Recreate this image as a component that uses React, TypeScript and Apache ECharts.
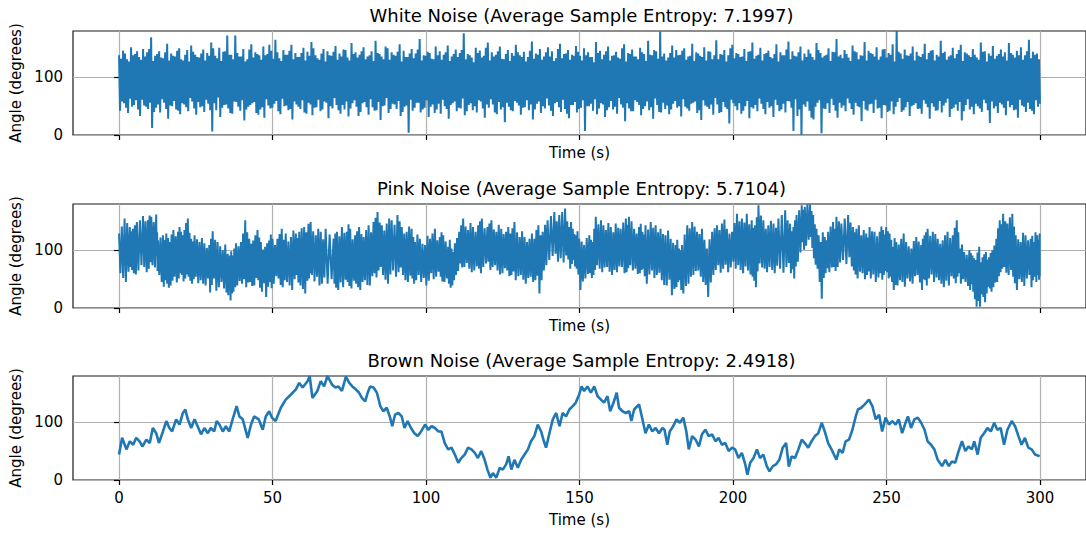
import { useEffect, useRef } from "react";
import * as echarts from "echarts";

// Panel titles and axis ticks
const PANEL_TITLES = [
  "White Noise (Average Sample Entropy: 7.1997)",
  "Pink Noise (Average Sample Entropy: 5.7104)",
  "Brown Noise (Average Sample Entropy: 2.4918)",
];
const TIME_TICKS = [0, 50, 100, 150, 200, 250, 300];
const ANGLE_TICKS = [0, 100];

// White noise: four samples per cycle (high, low, high2, low2), evenly spaced over 0–300 s
const whiteHigh = [
  138, 146, 131, 152, 140, 135, 149, 143, 169, 137, 145, 133, 158, 141, 136, 150, 129, 147, 155, 139,
  134, 148, 142, 160, 137, 151, 144, 172, 139, 172, 136, 149, 131, 157, 143, 138, 153, 140, 146, 165,
  133, 147, 139, 156, 142, 135, 151, 144, 161, 138, 130, 149, 145, 137, 154, 141, 148, 134, 159, 143,
  139, 152, 136, 145, 163, 140, 131, 150, 143, 137, 157, 146, 135, 149, 141, 166, 138, 144, 132, 153,
  145, 139, 155, 136, 148, 142, 176, 140, 134, 151, 146, 137, 160, 143, 139, 153, 131, 147, 142, 156,
  138, 144, 135, 162, 141, 149, 136, 152, 145, 133, 158, 140, 147, 139, 154, 137, 150, 143, 135, 161,
  146, 139, 153, 137, 144, 132, 157, 142, 148, 136, 151, 140, 163, 138, 145, 179, 141, 134, 155, 147,
  139, 150, 136, 158, 143, 137, 152, 145, 131, 164, 140, 147, 138, 156, 142, 135, 149, 144, 160, 137,
  151, 140, 146, 133, 157, 143, 138, 162, 145, 136, 153, 141, 148, 135, 159, 142, 137, 150, 144, 166,
  139, 147, 134, 155, 143, 138, 161, 146, 140, 152, 136, 149, 142, 157, 180, 141, 148, 137, 153, 144,
  135, 158, 142, 147, 139, 163, 144, 136, 151, 140, 156, 143, 138, 149, 134, 160, 145, 141, 154, 137,
  148, 143, 159, 139, 146, 152, 138, 165, 144, 141,
];
const whiteLow = [
  42, 55, 38, 49, 60, 33, 51, 45, 12, 47, 39, 56, 28, 50, 44, 36, 53, 41, 58, 35,
  48, 40, 54, 6, 43, 31, 52, 46, 37, 57, 42, 25, 49, 55, 38, 44, 30, 51, 47, 59,
  36, 50, 43, 27, 53, 45, 39, 56, 34, 48, 41, 58, 29, 46, 52, 37, 44, 32, 55, 49,
  40, 57, 35, 48, 43, 26, 51, 38, 54, 45, 33, 49, 4, 42, 56, 39, 47, 31, 53, 44,
  37, 50, 28, 55, 41, 46, 34, 52, 43, 39, 58, 30, 47, 53, 36, 44, 22, 49, 41, 56,
  35, 48, 43, 27, 54, 38, 46, 51, 33, 57, 40, 45, 29, 52, 39, 47, 7, 50, 42, 36,
  55, 31, 48, 44, 37, 53, 24, 46, 41, 57, 34, 50, 43, 28, 52, 39, 45, 36, 54, 47,
  32, 49, 42, 56, 38, 26, 51, 45, 35, 53, 40, 48, 20, 55, 43, 37, 50, 29, 46, 41,
  54, 36, 47, 31, 52, 44, 39, 58, 7, 33, 0, 49, 42, 27, 56, 3, 45, 38, 52, 30,
  47, 41, 55, 35, 50, 24, 44, 53, 38, 46, 29, 51, 42, 36, 57, 40, 48, 33, 52, 45,
  37, 54, 28, 49, 43, 39, 56, 31, 47, 42, 25, 52, 44, 36, 50, 40, 55, 21, 46, 38,
  53, 34, 48, 43, 30, 51, 40, 45, 36, 49,
];
const whiteHigh2 = [
  132, 141, 127, 138, 145, 130, 136, 149, 128, 140, 134, 143, 129, 137, 146, 131, 139, 127, 144, 135,
  141, 129, 137, 150, 133, 128, 145, 139, 131, 142, 136, 127, 148, 134, 140, 130, 138, 156, 132, 143,
  128, 139, 146, 131, 135, 142, 129, 137, 150, 133, 141, 127, 138, 144, 130, 136, 147, 129, 140, 134,
  145, 131, 138, 128, 142, 136, 153, 130, 139, 144, 127, 135, 141, 133, 148, 129, 137, 142, 131, 138,
  130, 143, 128, 140, 135, 147, 131, 138, 126, 142, 134, 151, 129, 136, 145, 132, 140, 128, 137, 143,
  135, 127, 146, 132, 139, 130, 143, 136, 128, 149, 133, 141, 130, 137, 144, 129, 138, 135, 126, 142,
  131, 145, 129, 138, 134, 150, 127, 140, 136, 131, 143, 128, 139, 147, 132, 136, 129, 142, 134, 138,
  146, 130, 137, 128, 141, 135, 129, 144, 138, 131, 139, 127, 150, 133, 140, 136, 128, 145, 132, 139,
  129, 142, 135, 140, 127, 138, 148, 131, 137, 143, 129, 135, 141, 130, 147, 134, 139, 128, 143, 136,
  133, 140, 128, 145, 131, 137, 129, 142, 136, 130, 148, 134, 139, 127, 144, 132, 138, 141, 129, 137,
  140, 131, 146, 129, 136, 142, 130, 138, 133, 147, 128, 141, 135, 139, 130, 144, 127, 137, 132, 140,
  136, 129, 142, 134, 138, 130, 145, 133, 139, 131,
];
const whiteLow2 = [
  58, 47, 63, 52, 44, 61, 49, 56, 40, 53, 62, 45, 51, 59, 42, 55, 48, 64, 46, 57,
  50, 61, 43, 55, 65, 47, 53, 38, 58, 49, 60, 44, 52, 57, 35, 48, 62, 46, 54, 41,
  63, 51, 45, 58, 49, 60, 37, 53, 47, 61, 44, 56, 50, 64, 43, 52, 58, 46, 60, 33,
  55, 48, 62, 42, 57, 50, 64, 45, 53, 59, 40, 51, 61, 47, 56, 44, 60, 49, 38, 54,
  61, 45, 52, 58, 47, 63, 41, 55, 50, 60, 46, 53, 62, 39, 57, 48, 56, 43, 59, 51,
  47, 60, 53, 44, 58, 50, 63, 42, 55, 48, 61, 37, 52, 57, 45, 60, 50, 54, 62, 46,
  53, 43, 59, 49, 64, 47, 55, 41, 60, 52, 45, 58, 48, 63, 40, 56, 51, 44, 59, 50,
  62, 46, 54, 58, 43, 60, 49, 53, 64, 38, 57, 45, 61, 50, 55, 42, 59, 48, 52, 63,
  45, 57, 50, 61, 41, 54, 59, 47, 62, 44, 53, 58, 30, 49, 60, 46, 55, 63, 42, 56,
  51, 63, 45, 56, 48, 59, 42, 54, 61, 47, 52, 40, 58, 49, 64, 43, 57, 50, 55, 46,
  60, 48, 55, 42, 59, 51, 63, 45, 53, 57, 41, 62, 49, 54, 46, 61, 43, 58, 50, 56,
  47, 59, 52, 44, 61, 49, 56, 42, 60, 54,
];

// Pink noise: time of each main peak, then peak, trough, secondary peak and secondary trough
const pinkTime = [
  0, 1.8, 3.5, 4.5, 5.8, 7.8, 9.4, 10.5, 12.1, 12.7,
  14.3, 15.4, 16.5, 17.7, 19.2, 20.2, 21.3, 22.4, 23.5, 24.6,
  26.2, 27.8, 29.4, 30.5, 32.1, 33.8, 35.4, 36.1, 37, 38.1,
  39.7, 41.1, 42.4, 43.7, 45.1, 46.2, 47.6, 48.9, 50, 51.6,
  53, 54.3, 56, 57.6, 58.7, 60.3, 61.7, 62.4, 64.1, 65.7,
  67.3, 69.9, 71, 72.6, 74.2, 75.3, 76.9, 78.2, 79.7, 81.3,
  82.9, 84.2, 85.6, 87.2, 88.8, 90.7, 92.1, 93.7, 95.3, 96.4,
  98, 99.7, 101.3, 102.9, 104.5, 105.6, 107.2, 108.3, 109.4, 110.8,
  112.1, 113.7, 115.3, 117, 118.2, 120, 121.3, 122.9, 124.5, 126.1,
  127.5, 128.8, 130.5, 132.1, 133.7, 135.3, 136.6, 138, 139.6, 141.8,
  143.4, 145.3, 146.7, 147.8, 148.8, 149.9, 151.5, 153.2, 154.3, 155.3,
  157, 158.6, 160.2, 161.8, 163.4, 165.1, 166.1, 167.8, 169.4, 170.5,
  171.5, 173.2, 174.8, 176.4, 178, 179.7, 181.3, 182.4, 183.4, 185.1,
  186.7, 188.3, 189.9, 191.5, 193.2, 194.8, 196.4, 198, 199.7, 201.3,
  202.9, 204.5, 206.1, 207.2, 208.3, 209.9, 211.5, 213.2, 214.8, 217,
  218.6, 219.7, 220.7, 222.4, 223.4, 225.1, 226.1, 227.2, 228.6, 229.9,
  231, 232.6, 233.7, 235.3, 237.5, 239.1, 240.2, 241.8, 243.4, 244.5,
  246.1, 247.8, 248.9, 249.9, 251, 252.1, 253.2, 254.8, 256.4, 258.1,
  259.7, 261.3, 262.4, 263.4, 265.1, 266.7, 268.3, 269.9, 271.6, 272.9,
  273.9, 275.3, 277, 278, 279.1, 280.2, 281.3, 282.4, 283.4, 284.5,
  285.8, 286.9, 288, 289.4, 291, 292.1, 293.7, 295.3, 297, 298,
  299.1, 299.9,
];
const pinkHigh = [
  129, 155, 140, 137, 149, 159, 152, 158, 162, 117,
  126, 129, 114, 135, 132, 132, 135, 155, 120, 126,
  114, 112, 109, 133, 114, 100, 94, 91, 91, 112,
  114, 152, 120, 117, 135, 114, 106, 117, 120, 120,
  137, 129, 123, 129, 132, 140, 146, 149, 126, 132,
  137, 120, 132, 140, 132, 137, 126, 140, 123, 143,
  149, 166, 143, 146, 152, 161, 140, 132, 137, 114,
  120, 109, 120, 137, 123, 126, 106, 103, 112, 132,
  155, 135, 140, 143, 155, 140, 152, 132, 137, 132,
  129, 149, 123, 123, 120, 120, 143, 132, 152, 166,
  161, 172, 140, 137, 126, 120, 109, 126, 114, 158,
  152, 135, 140, 146, 137, 155, 158, 137, 140, 132,
  143, 149, 143, 137, 126, 120, 109, 103, 109, 143,
  149, 132, 137, 103, 132, 143, 146, 137, 132, 163,
  155, 163, 152, 143, 178, 152, 143, 146, 155, 169,
  146, 140, 161, 178, 175, 179, 161, 137, 114, 123,
  132, 149, 158, 146, 161, 140, 137, 126, 129, 140,
  132, 132, 135, 140, 129, 106, 114, 120, 114, 103,
  123, 109, 126, 137, 132, 120, 117, 132, 126, 152,
  103, 97, 100, 91, 83, 106, 88, 97, 88, 100,
  120, 152, 163, 146, 163, 126, 114, 126, 120, 114,
  126, 129,
];
const pinkLow = [
  60, 45, 71, 60, 65, 71, 68, 74, 91, 57,
  37, 42, 39, 54, 51, 57, 51, 54, 42, 54,
  48, 39, 27, 51, 36, 34, 22, 13, 28, 39,
  42, 36, 45, 39, 48, 28, 19, 45, 42, 51,
  36, 45, 31, 57, 39, 25, 51, 57, 54, 42,
  42, 42, 31, 36, 45, 34, 42, 31, 48, 39,
  60, 65, 57, 42, 65, 62, 57, 45, 51, 48,
  45, 39, 60, 54, 54, 45, 42, 39, 57, 77,
  71, 68, 65, 68, 71, 80, 71, 65, 60, 65,
  57, 48, 57, 42, 54, 48, 25, 65, 83, 94,
  86, 91, 68, 83, 68, 31, 51, 60, 57, 74,
  62, 71, 57, 62, 71, 62, 74, 68, 60, 68,
  42, 65, 57, 48, 39, 22, 36, 48, 25, 42,
  57, 65, 45, 19, 57, 74, 68, 62, 80, 74,
  60, 65, 54, 36, 77, 68, 71, 60, 68, 71,
  60, 51, 80, 114, 108, 123, 86, 68, 16, 60,
  62, 71, 71, 83, 88, 65, 51, 60, 57, 51,
  45, 60, 57, 62, 54, 31, 39, 45, 51, 42,
  57, 31, 48, 51, 45, 48, 36, 39, 51, 54,
  42, 45, 31, 28, 2, 2, 19, 25, 34, 36,
  45, 62, 71, 57, 54, 31, 45, 51, 36, 54,
  57, 60,
];
const pinkHigh2 = [
  141, 147, 133, 143, 152, 150, 160, 149, 131, 122,
  118, 121, 127, 124, 140, 126, 147, 130, 115, 119,
  121, 104, 120, 118, 107, 110, 85, 98, 103, 107,
  129, 131, 111, 126, 122, 101, 112, 127, 109, 128,
  118, 115, 134, 121, 138, 131, 140, 133, 137, 119,
  127, 129, 124, 130, 145, 119, 133, 128, 135, 131,
  156, 148, 134, 155, 144, 150, 129, 141, 123, 127,
  111, 125, 129, 117, 131, 115, 118, 97, 121, 143,
  141, 147, 132, 150, 138, 146, 136, 144, 128, 140,
  138, 131, 133, 114, 129, 135, 126, 144, 159, 150,
  166, 150, 149, 128, 133, 115, 121, 118, 137, 145,
  143, 147, 131, 139, 148, 144, 150, 129, 146, 127,
  136, 139, 131, 128, 134, 113, 118, 100, 127, 138,
  141, 128, 118, 119, 138, 135, 153, 129, 147, 150,
  148, 145, 139, 157, 160, 137, 151, 139, 161, 152,
  133, 152, 169, 170, 180, 168, 145, 126, 131, 117,
  141, 137, 150, 155, 148, 131, 143, 135, 122, 133,
  124, 141, 127, 133, 118, 121, 110, 129, 107, 116,
  115, 120, 131, 125, 128, 111, 126, 121, 139, 131,
  110, 92, 95, 86, 96, 79, 93, 84, 95, 108,
  138, 145, 150, 157, 141, 119, 130, 117, 125, 131,
  118, 125,
];
const pinkLow2 = [
  52, 63, 66, 58, 74, 62, 79, 70, 64, 45,
  48, 35, 47, 44, 60, 46, 58, 47, 50, 43,
  42, 51, 40, 30, 45, 27, 33, 25, 36, 47,
  50, 44, 38, 52, 35, 43, 37, 34, 55, 40,
  48, 39, 50, 44, 33, 47, 60, 46, 39, 53,
  50, 35, 44, 49, 38, 47, 36, 45, 40, 55,
  53, 71, 49, 58, 54, 70, 48, 56, 42, 57,
  52, 47, 50, 63, 46, 51, 35, 48, 64, 70,
  78, 62, 72, 60, 77, 66, 74, 58, 69, 55,
  63, 55, 49, 52, 45, 56, 48, 74, 90, 80,
  79, 84, 76, 72, 58, 46, 59, 52, 66, 68,
  70, 63, 66, 72, 60, 69, 65, 59, 66, 55,
  58, 52, 61, 40, 49, 33, 45, 31, 38, 54,
  64, 54, 40, 44, 66, 61, 75, 70, 68, 66,
  72, 58, 47, 63, 70, 62, 66, 73, 61, 78,
  67, 72, 96, 101, 118, 104, 75, 45, 52, 69,
  70, 64, 79, 76, 72, 58, 63, 50, 63, 58,
  53, 49, 64, 51, 45, 40, 48, 37, 46, 55,
  44, 50, 39, 58, 53, 42, 47, 55, 43, 60,
  50, 38, 41, 15, 12, 24, 10, 37, 28, 44,
  55, 68, 61, 66, 43, 50, 38, 57, 48, 45,
  49, 55,
];

// Brown noise: sampled angle trace
const brownTime = [
  0, 1, 2.4, 3.5, 4.6, 5.6, 6.7, 7.6, 8.9, 10, 11, 12.1, 13, 14.3, 15.4, 16.4, 17.3, 18.6, 19.7, 20.8,
  21.6, 22.4, 23.5, 24.6, 25.6, 26.7, 27.8, 28.9, 29.9, 31, 31.8, 32.7, 33.8, 34.8, 35.9, 37, 38.3, 39.2, 40.3, 41.9,
  43, 44, 45.5, 46.8, 47.8, 48.9, 49.8, 51, 52.7, 54.3, 56, 57.6, 58.7, 59.8, 61.4, 62.1, 63, 64.6, 65.7, 66.8,
  67.9,
  69.4, 70.5, 71.5, 72.6, 73.9, 75, 76, 77.1, 78.2, 79.1, 80.2, 81, 81.8, 82.9, 84, 85.1, 86.1, 87.2, 88.3, 89,
  89.9, 91, 92.1, 93, 94, 95.1, 96.2, 97.3, 98.4, 99.7, 100.7, 101.8, 102.9, 104, 105, 106.1, 107.2, 108.3, 109.4, 110.5,
  111.5, 112.6, 113.7, 114.8, 115.9, 116.9, 118, 119.1, 120, 121, 121.8, 122.9, 124, 125, 126.1, 126.9, 127.8, 128.8, 129.9, 131,
  132.1, 133.2, 134.2, 135.3, 136.4, 137.5, 138.4, 139.1, 140.2, 141.3, 142.4, 143.5,
  144.5, 145.6, 146.7, 147.8, 148.8, 149.9, 150.7, 151.5, 152.6, 153.7, 154.8, 155.9, 157, 158, 159.1, 160, 161.1, 162.1, 162.9, 164,
  165.1, 166.2, 166.9, 167.8, 169.4, 170.5, 171.5, 172.6, 173.7, 174.8, 175.9, 177, 177.7, 178.6, 179.4, 180.5, 181.6, 182.7, 183.8, 184.8,
  185.6, 186.7, 187.8, 188.9, 189.9, 191, 192.1, 193.2, 194.3, 195.3, 196.4, 197.5, 198.6, 199.7, 200.7, 201.8, 202.9, 204, 204.7, 205.6,
  206.7, 207.8, 208.8, 209.9, 211, 211.9, 213, 214, 215.1, 216.2, 217.3,
  218.2, 219.1, 220.2, 221.3, 222.4, 223.4, 224.5, 225.6, 226.7, 227.8, 228.9, 229.9, 231, 232.1, 233.7, 234.6, 235.7, 236.7, 237.8, 238.9,
  240, 240.7, 241.8, 242.9, 244.3, 245.4, 246.5, 247.6, 248.6, 249.7, 250.8, 251.9, 253, 254, 255.1, 256.2, 257, 258, 259.1, 260.2,
  261.3, 262.4, 263.4, 264.5, 265.6, 266.7, 268.1, 269.2, 270.3, 271.3, 272.4, 273.5, 274.6, 275.7, 276.7, 277.8, 278.6, 279.7, 280.7, 281.8,
  282.9, 284, 285.1, 286.1, 287.2, 288.3, 289.4, 290.8, 291.9, 293, 294, 295.1, 296.2, 297.3, 298.4, 299.9,
];
const brownAngle = [
  44, 73, 53, 67, 61, 73, 67, 58, 70, 64, 90, 81, 64, 84, 102, 90, 84, 105, 96, 116,
  122, 105, 90, 105, 93, 79, 90, 81, 90, 84, 102, 96, 84, 93, 84, 105, 128, 110, 105, 73,
  96, 110, 105, 87, 110, 119, 108, 102, 125, 139, 148, 157, 168, 160, 171, 180, 142, 154, 171, 162,
  180,
  165, 160, 162, 154, 179, 168, 162, 157, 151, 142, 136, 151, 162, 160, 151, 128, 119, 125, 108, 93,
  113, 116, 110, 90, 102, 90, 81, 76, 84, 96, 87, 93, 90, 84, 84, 64, 53, 56, 44, 30,
  38, 44, 56, 53, 47, 38, 50, 35, 18, 4, 12, 4, 21, 18, 27, 41, 18, 35, 21, 35,
  44, 53, 67, 76, 96, 84, 67, 56, 81, 105, 116, 93,
  116, 110, 122, 128, 134, 148, 162, 154, 162, 151, 162, 145, 139, 134, 145, 119, 134, 151, 125, 119,
  116, 119, 102, 122, 131, 105, 81, 96, 84, 90, 81, 90, 87, 61, 84, 93, 105, 99, 108, 84,
  53, 76, 70, 58, 79, 87, 76, 79, 67, 73, 61, 64, 50, 56, 53, 38, 47, 27, 9, 30,
  38, 53, 38, 44, 24, 15, 24, 27, 35, 56, 64,
  23, 41, 38, 53, 70, 64, 56, 67, 76, 81, 99, 84, 64, 53, 35, 53, 47, 67, 70, 87,
  110, 122, 125, 131, 139, 128, 105, 113, 84, 108, 96, 102, 96, 105, 81, 99, 110, 90, 105, 108,
  99, 87, 67, 61, 53, 35, 24, 35, 24, 32, 30, 50, 67, 50, 58, 53, 67, 44, 73, 81,
  90, 84, 99, 87, 90, 61, 87, 102, 93, 76, 61, 73, 56, 53, 44, 41,
];

const BLUE = "#1f77b4";
const FONT = "DejaVu Sans";
const PANEL_TOPS = [31, 204, 376];
const PANEL_HEIGHT = 104;
const TITLE_TOPS = [6, 179, 351];

function whiteData(): number[][] {
  const n = whiteHigh.length * 4;
  const step = 300 / (n - 1);
  const out: number[][] = [];
  for (let k = 0; k < whiteHigh.length; k++) {
    const j = 4 * k;
    out.push([j * step, whiteHigh[k]]);
    out.push([(j + 1) * step, whiteLow[k]]);
    out.push([(j + 2) * step, whiteHigh2[k]]);
    out.push([(j + 3) * step, whiteLow2[k]]);
  }
  return out;
}

function pinkData(): number[][] {
  const out: number[][] = [];
  for (let i = 0; i < pinkTime.length; i++) {
    const t = pinkTime[i];
    const d = (i + 1 < pinkTime.length ? pinkTime[i + 1] : t) - t;
    out.push([t, pinkHigh[i]]);
    out.push([t + d / 4, pinkLow[i]]);
    out.push([t + d / 2, pinkHigh2[i]]);
    out.push([t + (3 * d) / 4, pinkLow2[i]]);
  }
  return out;
}

function brownData(): number[][] {
  return brownTime.map((t, i) => [t, brownAngle[i]]);
}

export default function App() {
  const ref = useRef<HTMLDivElement>(null);

  useEffect(() => {
    if (!ref.current) return;
    const chart = echarts.init(ref.current, null, { renderer: "svg" });
    const datasets = [whiteData(), pinkData(), brownData()];
    const textBase = { color: "#000", fontFamily: FONT, fontSize: 15 };

    chart.setOption({
      animation: false,
      backgroundColor: "#fff",
      title: PANEL_TITLES.map((text, i) => ({
        text,
        left: 581.5,
        top: TITLE_TOPS[i],
        textAlign: "center",
        padding: 0,
        textStyle: { ...textBase, fontSize: 18, fontWeight: "normal" },
      })),
      grid: PANEL_TOPS.map((top) => ({
        left: 73,
        top,
        width: 1017,
        height: PANEL_HEIGHT,
        show: true,
        borderColor: "#1a1a1a",
        borderWidth: 1.2,
        backgroundColor: "transparent",
      })),
      xAxis: PANEL_TOPS.map((_, i) => ({
        type: "value",
        gridIndex: i,
        min: -15,
        max: 315,
        axisLine: { show: false },
        axisTick: {
          show: true,
          customValues: TIME_TICKS,
          length: 5,
          lineStyle: { color: "#000", width: 1.2 },
        },
        axisLabel: {
          show: i === 2,
          customValues: TIME_TICKS,
          margin: 10,
          ...textBase,
        },
        splitLine: { show: true, lineStyle: { color: "#b0b0b0", width: 1.2 } },
        name: "Time (s)",
        nameLocation: "middle",
        nameGap: i === 2 ? 32 : 10,
        nameTextStyle: textBase,
      })),
      yAxis: PANEL_TOPS.map((_, i) => ({
        type: "value",
        gridIndex: i,
        min: 0,
        max: 180,
        axisLine: { show: false },
        axisTick: {
          show: true,
          customValues: ANGLE_TICKS,
          length: 5,
          lineStyle: { color: "#000", width: 1.2 },
        },
        axisLabel: { customValues: ANGLE_TICKS, margin: 10, ...textBase },
        splitLine: { show: true, lineStyle: { color: "#b0b0b0", width: 1.2 } },
        name: "Angle (degrees)",
        nameLocation: "middle",
        nameGap: 48,
        nameTextStyle: textBase,
      })),
      series: datasets.map((data, i) => ({
        type: "line",
        xAxisIndex: i,
        yAxisIndex: i,
        data,
        symbol: "none",
        showSymbol: false,
        clip: true,
        silent: true,
        lineStyle: { color: BLUE, width: i === 2 ? 2.6 : 2 },
      })),
    });

    return () => chart.dispose();
  }, []);

  return (
    <div
      ref={ref}
      style={{ position: "fixed", left: 0, top: 0, width: 1086, height: 533, background: "#fff" }}
    />
  );
}
